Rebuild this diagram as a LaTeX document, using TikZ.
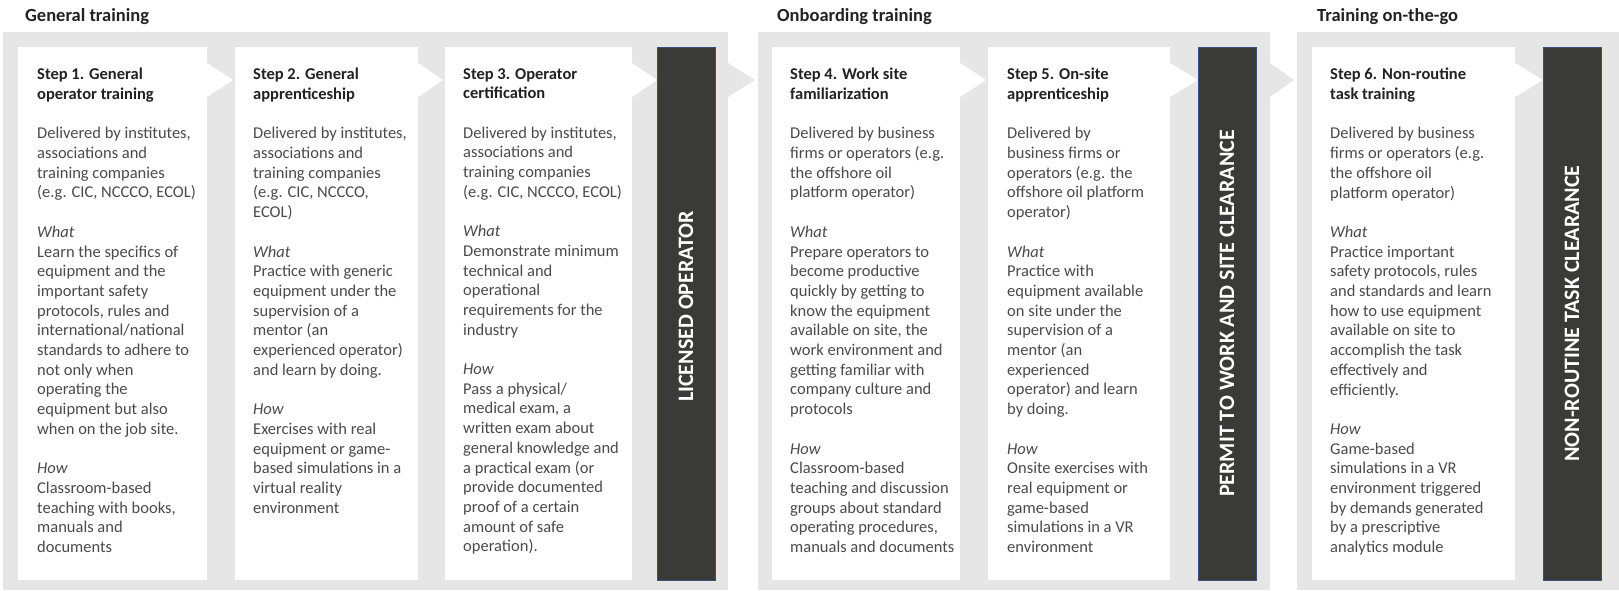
\documentclass[tikz,border=0pt]{standalone}
\usepackage{fontspec}
\setmainfont{Carlito}
\usetikzlibrary{calc}
\definecolor{panelgrey}{HTML}{E6E6E6}
\definecolor{bardark}{HTML}{3A3A38}
\definecolor{barline}{HTML}{3C4F7A}
\definecolor{bodytext}{HTML}{4A4A4A}
\definecolor{headtext}{HTML}{222222}
\newcommand{\hd}[1]{{\bfseries\color{headtext}#1}}
\newcommand{\lb}[1]{\textit{#1}}
\newcommand{\bl}{\\[19.7pt]}
\begin{document}
\begin{tikzpicture}[x=1pt,y=-1pt,
  panel/.style={fill=panelgrey, draw=none, anchor=north west, inner sep=0pt, outer sep=0pt},
  card/.style={fill=white, draw=none, anchor=north west, inner sep=0pt, outer sep=0pt, minimum height=533pt},
  darkbar/.style={fill=bardark, draw=barline, line width=0.8pt, anchor=north west, inner sep=0pt, outer sep=0pt, minimum width=58pt, minimum height=533pt},
  bartext/.style={text=white, font=\fontsize{22}{26}\selectfont\bfseries, rotate=90, inner sep=0pt},
  txt/.style={anchor=north west, inner sep=0pt, align=left, text=bodytext, font=\fontsize{16.5}{19.7}\selectfont},
  phase/.style={anchor=base west, inner sep=0pt, text=headtext, font=\fontsize{18.5}{22}\selectfont\bfseries},
  whitechev/.style={fill=white, draw=none},
  greychev/.style={fill=panelgrey, draw=none}]
\useasboundingbox (0,0) rectangle (1619,590);
% phase headings
\node[phase] (h1) at (25,21) {General training};
\node[phase] (h2) at (777,21) {Onboarding training};
\node[phase] (h3) at (1317,21) {Training on-the-go};
% panels
\node[panel, minimum width=725pt, minimum height=558pt] (p1) at (3,32) {};
\node[panel, minimum width=512pt, minimum height=558pt] (p2) at (758,32) {};
\node[panel, minimum width=322pt, minimum height=558pt] (p3) at (1297,32) {};
% arrows between panels
\fill[greychev] ($(p1.north east)+(0,31)$) -- ($(p2.north west)+(-3,48)$) -- ($(p1.north east)+(0,65)$) -- cycle;
\fill[greychev] ($(p2.north east)+(0,31)$) -- ($(p3.north west)+(-3,48)$) -- ($(p2.north east)+(0,65)$) -- cycle;
% cards
\node[card, minimum width=189pt] (c1) at (18,47) {};
\node[card, minimum width=183pt] (c2) at (235,47) {};
\node[card, minimum width=187pt] (c3) at (445,47) {};
\node[card, minimum width=188pt] (c4) at (772,47) {};
\node[card, minimum width=182pt] (c5) at (988,47) {};
\node[card, minimum width=203pt] (c6) at (1312,47) {};
% bars
\node[darkbar] (b1) at (657,47) {};
\node[darkbar] (b2) at (1198,47) {};
\node[darkbar] (b3) at (1543,47) {};
% chevrons inside panels
\fill[whitechev] ($(c1.north east)+(0,16)$) -- ($(c2.north west)+(-2,33)$) -- ($(c1.north east)+(0,50)$) -- cycle;
\fill[whitechev] ($(c2.north east)+(0,16)$) -- ($(c3.north west)+(-2,33)$) -- ($(c2.north east)+(0,50)$) -- cycle;
\fill[whitechev] ($(c3.north east)+(0,16)$) -- ($(b1.north west)+(0,33)$) -- ($(c3.north east)+(0,50)$) -- cycle;
\fill[whitechev] ($(c4.north east)+(0,16)$) -- ($(c5.north west)+(-2,33)$) -- ($(c4.north east)+(0,50)$) -- cycle;
\fill[whitechev] ($(c5.north east)+(0,16)$) -- ($(b2.north west)+(0,33)$) -- ($(c5.north east)+(0,50)$) -- cycle;
\fill[whitechev] ($(c6.north east)+(0,16)$) -- ($(b3.north west)+(0,33)$) -- ($(c6.north east)+(0,50)$) -- cycle;
% bar labels
\node[bartext] (l1) at ($(b1.center)+(0,-7)$) {LICENSED OPERATOR};
\node[bartext] (l2) at (b2.center) {PERMIT TO WORK AND SITE CLEARANCE};
\node[bartext] (l3) at (b3.center) {NON-ROUTINE TASK CLEARANCE};
% card texts
\node[txt] (t1) at (37,68) {\hd{Step 1. General}\\ \hd{operator training}\bl
Delivered by institutes,\\ associations and\\ training companies\\ (e.g. CIC, NCCCO, ECOL)\bl
\lb{What}\\ Learn the specifics of\\ equipment and the\\ important safety\\ protocols, rules and\\ international/national\\ standards to adhere to\\ not only when\\ operating the\\ equipment but also\\ when on the job site.\bl
\lb{How}\\ Classroom-based\\ teaching with books,\\ manuals and\\ documents};
\node[txt] (t2) at (253,68) {\hd{Step 2. General}\\ \hd{apprenticeship}\bl
Delivered by institutes,\\ associations and\\ training companies\\ (e.g. CIC, NCCCO,\\ ECOL)\bl
\lb{What}\\ Practice with generic\\ equipment under the\\ supervision of a\\ mentor (an\\ experienced operator)\\ and learn by doing.\bl
\lb{How}\\ Exercises with real\\ equipment or game-\\ based simulations in a\\ virtual reality\\ environment};
\node[txt] (t3) at (463,68) {\hd{Step 3. Operator}\\ \hd{certification}\bl
Delivered by institutes,\\ associations and\\ training companies\\ (e.g. CIC, NCCCO, ECOL)\bl
\lb{What}\\ Demonstrate minimum\\ technical and\\ operational\\ requirements for the\\ industry\bl
\lb{How}\\ Pass a physical/\\ medical exam, a\\ written exam about\\ general knowledge and\\ a practical exam (or\\ provide documented\\ proof of a certain\\ amount of safe\\ operation).};
\node[txt] (t4) at (790,68) {\hd{Step 4. Work site}\\ \hd{familiarization}\bl
Delivered by business\\ firms or operators (e.g.\\ the offshore oil\\ platform operator)\bl
\lb{What}\\ Prepare operators to\\ become productive\\ quickly by getting to\\ know the equipment\\ available on site, the\\ work environment and\\ getting familiar with\\ company culture and\\ protocols\bl
\lb{How}\\ Classroom-based\\ teaching and discussion\\ groups about standard\\ operating procedures,\\ manuals and documents};
\node[txt] (t5) at (1007,68) {\hd{Step 5. On-site}\\ \hd{apprenticeship}\bl
Delivered by\\ business firms or\\ operators (e.g. the\\ offshore oil platform\\ operator)\bl
\lb{What}\\ Practice with\\ equipment available\\ on site under the\\ supervision of a\\ mentor (an\\ experienced\\ operator) and learn\\ by doing.\bl
\lb{How}\\ Onsite exercises with\\ real equipment or\\ game-based\\ simulations in a VR\\ environment};
\node[txt] (t6) at (1330,68) {\hd{Step 6. Non-routine}\\ \hd{task training}\bl
Delivered by business\\ firms or operators (e.g.\\ the offshore oil\\ platform operator)\bl
\lb{What}\\ Practice important\\ safety protocols, rules\\ and standards and learn\\ how to use equipment\\ available on site to\\ accomplish the task\\ effectively and\\ efficiently.\bl
\lb{How}\\ Game-based\\ simulations in a VR\\ environment triggered\\ by demands generated\\ by a prescriptive\\ analytics module};
\end{tikzpicture}
\end{document}
